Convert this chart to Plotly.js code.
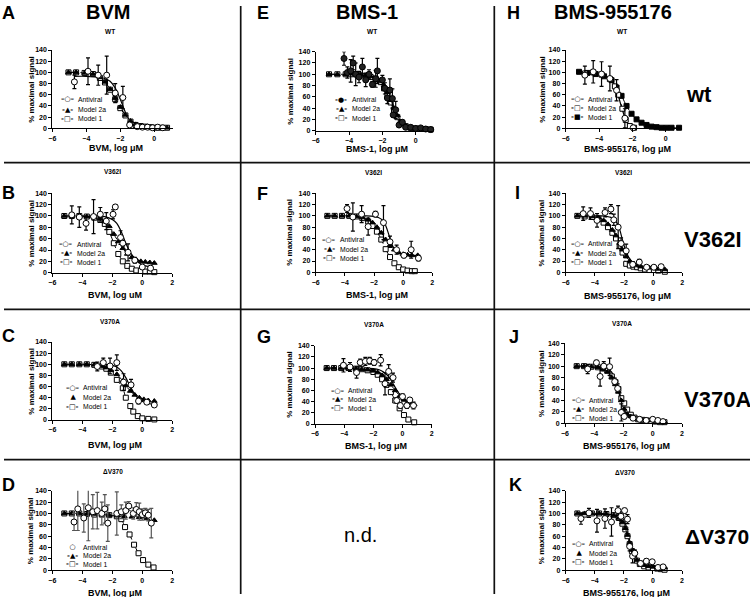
<!DOCTYPE html>
<html><head><meta charset="utf-8">
<script src="https://cdn.plot.ly/plotly-3.0.1.min.js"></script>
<style>html,body{margin:0;padding:0;background:#fff}#chart{width:750px;height:597px}</style>
</head><body><div id="chart"></div>
<script>
// ---------- DATA ----------
// Panel A: BVM, WT
const A_avX = [-4.7, -3.9, -3.3, -2.8, -2.3, -1.85, -1.45, -1.0, -0.7, -0.4, -0.1, 0.2, 0.5];
const A_avY = [83, 102, 95, 95, 63, 55, 6, 3, 2, 2, 1, 2, 1];
const A_avE = [12, 24, 18, 34, 17, 20, 2, 1, 1, 1, 1, 1, 1];
const A_fitX = [-4.7, -4.0, -3.5, -3.0, -2.6, -2.3, -2.0, -1.8, -1.6, -1.4, -1.2, -0.9, -0.5, 0.0, 0.7];
const A_fitY = [93, 93, 92, 90, 84, 72, 52, 36, 22, 11, 5, 2, 1, 0.5, 0.5];
const A_m2X = [-5.05, -4.6, -4.1, -3.6, -3.2, -2.9, -2.6, -2.3, -2.0, -1.7, -1.4, -1.1, -0.8, -0.5, -0.2, 0.1, 0.4, 0.75];
const A_m2Y = [100, 100, 99, 97, 91, 83, 70, 54, 38, 24, 13, 7, 4, 3, 2, 2, 1, 1];
const A_m1X = [-5.05, -4.6, -4.1, -3.6, -3.2, -2.9, -2.6, -2.3, -2.0, -1.7, -1.4, -1.1, -0.8, -0.5, -0.2, 0.1, 0.4, 0.75];
const A_m1Y = [100, 100, 99, 97, 90, 82, 69, 52, 36, 23, 12, 6, 4, 3, 2, 1, 1, 1];

// Panel B: BVM, V362I
const B_avX = [-4.7, -4.2, -3.75, -3.25, -2.8, -2.4, -1.95, -1.8, -1.45, -1.3, -0.95, -0.5, 0.0, 0.55];
const B_avY = [102, 98, 87, 99, 103, 91, 103, 116, 62, 52, 36, 22, 10, 8];
const B_avE = [16, 18, 12, 30, 12, 15, 8, 4, 12, 5, 15, 5, 3, 4];
const B_fitX = [-4.8, -4.0, -3.0, -2.5, -2.0, -1.7, -1.4, -1.1, -0.8, -0.5, -0.2, 0.2, 0.6];
const B_fitY = [100, 100, 100, 99, 94, 87, 72, 52, 36, 25, 17, 12, 10];
const B_m2X = [-5.2, -4.7, -4.2, -3.7, -3.2, -2.8, -2.5, -2.2, -1.9, -1.6, -1.3, -1.0, -0.7, -0.4, -0.1, 0.2, 0.5, 0.8];
const B_m2Y = [100, 100, 100, 99, 98, 95, 90, 82, 68, 55, 43, 33, 27, 23, 20, 19, 18, 17];
const B_m1X = [-5.2, -4.7, -4.2, -3.7, -3.2, -2.8, -2.5, -2.2, -1.9, -1.6, -1.3, -1.0, -0.7, -0.4, -0.1, 0.2, 0.5, 0.8];
const B_m1Y = [100, 100, 100, 99, 97, 93, 86, 72, 52, 33, 20, 12, 7, 4, 3, 2, 2, 1];

// Panel C: BVM, V370A
const C_avX = [-3.0, -2.6, -2.15, -1.7, -1.25, -0.75, -0.25, 0.3, 0.8];
const C_avY = [96, 103, 97, 103, 68, 63, 34, 32, 27];
const C_avE = [8, 8, 14, 14, 15, 10, 5, 4, 3];
const C_fitX = [-3.0, -2.5, -2.0, -1.7, -1.4, -1.1, -0.8, -0.5, -0.2, 0.2, 0.8];
const C_fitY = [100, 100, 98, 95, 88, 76, 60, 46, 37, 31, 28];
const C_m2X = [-5.2, -4.7, -4.2, -3.7, -3.2, -2.7, -2.4, -2.1, -1.7, -1.3, -1.1, -0.8, -0.5, -0.2, 0.1, 0.4, 0.8];
const C_m2Y = [100, 100, 100, 100, 99, 97, 94, 89, 82, 70, 62, 52, 45, 40, 37, 35, 34];
const C_m1X = [-5.2, -4.7, -4.2, -3.7, -3.2, -2.7, -2.4, -2.1, -1.7, -1.3, -1.1, -0.8, -0.6, -0.3, 0.0, 0.4, 0.8];
const C_m1Y = [100, 100, 100, 100, 99, 96, 92, 85, 72, 57, 40, 25, 15, 7, 3, 2, 1];

// Panel D: BVM, deltaV370
const D_avX = [-4.55, -4.3, -3.9, -3.6, -3.3, -3.0, -2.7, -2.5, -2.3, -1.7, -1.4, -1.1, -0.9, -0.6, -0.4, -0.2, 0.0, 0.2, 0.4, 0.6];
const D_avY = [85, 108, 92, 110, 103, 105, 100, 108, 83, 100, 103, 105, 113, 100, 107, 103, 98, 101, 97, 83];
const D_avE = [15, 38, 25, 58, 30, 32, 20, 25, 32, 38, 12, 15, 8, 10, 12, 15, 10, 8, 10, 26];
const D_m2X = [-5.2, -4.7, -4.2, -3.7, -3.2, -2.7, -2.2, -1.7, -1.2, -0.7, -0.2, 0.3, 0.8];
const D_m2Y = [100, 100, 100, 99, 99, 98, 97, 96, 95, 94, 93, 91, 88];
const D_m1X = [-5.2, -4.7, -4.2, -3.7, -3.2, -2.7, -2.2, -1.7, -1.4, -1.15, -0.85, -0.55, -0.25, 0.05, 0.4, 0.75];
const D_m1Y = [100, 100, 100, 99, 98, 98, 97, 95, 90, 76, 63, 45, 30, 18, 10, 5];

// Panel E: BMS-1, WT
const E_avX = [-4.3, -4.1, -3.9, -3.75, -3.6, -3.4, -3.2, -3.0, -2.8, -2.6, -2.4, -2.3, -2.0, -1.85, -1.7, -1.55, -1.4, -1.35, -1.2, -1.0, -0.8, -0.6, -0.3, 0.0, 0.3, 0.6, 0.9];
const E_avY = [128, 103, 106, 120, 100, 95, 113, 90, 100, 82, 92, 106, 90, 75, 58, 72, 57, 28, 37, 10, 15, 6, 6, 4, 5, 3, 2];
const E_avE = [12, 10, 20, 12, 20, 10, 15, 12, 8, 5, 15, 22, 8, 10, 10, 20, 17, 4, 15, 4, 4, 3, 3, 2, 2, 2, 1];
const E_fitX = [-4.3, -3.5, -3.0, -2.5, -2.2, -1.9, -1.7, -1.5, -1.3, -1.1, -0.9, -0.6, -0.2, 0.4, 1.0];
const E_fitY = [101, 100, 99, 97, 93, 84, 72, 57, 40, 25, 15, 8, 5, 3, 3];
const E_m2X = [-5.2, -4.7, -4.2, -3.9, -3.6, -3.3, -3.0, -2.7, -2.4, -2.1, -1.9, -1.7, -1.5, -1.3, -1.1, -0.9, -0.6, -0.3, 0.0, 0.3, 0.6, 0.9];
const E_m2Y = [100, 100, 100, 101, 100, 99, 98, 96, 93, 88, 80, 68, 56, 40, 27, 16, 9, 6, 5, 4, 3, 3];
const E_m1X = [-5.2, -4.7, -4.2, -3.9, -3.6, -3.3, -3.0, -2.7, -2.4, -2.1, -1.9, -1.7, -1.5, -1.3, -1.1, -0.9, -0.6, -0.3, 0.0, 0.3, 0.6, 0.9];
const E_m1Y = [100, 100, 100, 100, 100, 98, 97, 95, 92, 86, 75, 62, 50, 37, 24, 14, 8, 5, 4, 3, 3, 2];

// Panel F: BMS-1, V362I
const F_avX = [-3.85, -3.45, -2.85, -2.4, -1.9, -1.35, -0.9, -0.45, 0.05, 0.55, 1.05];
const F_avY = [113, 98, 103, 81, 103, 88, 54, 40, 30, 40, 25];
const F_avE = [7, 25, 15, 15, 5, 30, 10, 8, 4, 15, 5];
const F_fitX = [-3.8, -3.0, -2.5, -2.0, -1.7, -1.4, -1.2, -1.0, -0.8, -0.6, -0.3, 0.0, 0.5, 1.0];
const F_fitY = [100, 100, 100, 99, 97, 92, 83, 68, 52, 41, 34, 32, 30, 30];
const F_m2X = [-5.2, -4.7, -4.2, -3.7, -3.2, -2.8, -2.4, -2.1, -1.8, -1.5, -1.2, -0.9, -0.6, -0.3, 0.0, 0.3, 0.6, 1.0];
const F_m2Y = [100, 100, 100, 100, 99, 97, 93, 88, 80, 70, 58, 48, 40, 35, 32, 31, 30, 30];
const F_m1X = [-5.2, -4.7, -4.2, -3.7, -3.2, -2.8, -2.4, -2.1, -1.8, -1.5, -1.2, -0.9, -0.6, -0.3, 0.0, 0.3, 0.6, 0.8];
const F_m1Y = [100, 100, 100, 100, 99, 96, 90, 82, 72, 58, 41, 27, 16, 9, 5, 3, 2, 2];

// Panel G: BMS-1, V370A
const G_avX = [-4.05, -3.6, -3.15, -2.9, -2.55, -2.25, -1.95, -1.5, -1.2, -0.95, -0.65, -0.4, -0.15, 0.0, 0.3, 0.5, 0.75];
const G_avY = [105, 102, 92, 110, 112, 113, 110, 114, 72, 94, 83, 42, 33, 49, 33, 43, 33];
const G_avE = [12, 8, 10, 6, 7, 6, 5, 10, 20, 12, 8, 5, 5, 5, 5, 4, 6];
const G_fitX = [-4.0, -3.0, -2.0, -1.6, -1.3, -1.0, -0.8, -0.6, -0.4, -0.2, 0.0, 0.3, 0.8];
const G_fitY = [100, 100, 99, 97, 93, 86, 79, 70, 61, 53, 47, 42, 37];
const G_m2X = [-5.2, -4.7, -4.2, -3.7, -3.2, -2.8, -2.4, -2.0, -1.7, -1.4, -1.1, -0.8, -0.5, -0.2, 0.1, 0.4, 0.8];
const G_m2Y = [100, 100, 100, 100, 99, 98, 97, 95, 92, 87, 80, 70, 60, 50, 43, 38, 35];
const G_m1X = [-5.2, -4.7, -4.2, -3.7, -3.2, -2.8, -2.4, -2.0, -1.7, -1.4, -1.1, -0.8, -0.5, -0.2, 0.1, 0.4, 0.8];
const G_m1Y = [100, 100, 100, 100, 99, 98, 96, 93, 88, 80, 70, 57, 42, 28, 16, 8, 3];

// Panel H: BMS-955176, WT
const H_avX = [-4.85, -4.35, -3.85, -3.35, -2.95, -2.45, -1.95];
const H_avY = [95, 101, 97, 89, 68, 18, 1];
const H_avE = [16, 20, 22, 22, 19, 17, 1];
const H_fitX = [-4.85, -4.3, -3.8, -3.5, -3.3, -3.1, -2.9, -2.75, -2.6, -2.45, -2.3, -2.1, -1.9];
const H_fitY = [97, 96, 94, 91, 86, 77, 63, 48, 33, 19, 9, 3, 1];
const H_m2X = [-4.85, -4.35, -3.85, -3.35, -3.05, -2.85, -2.6, -2.4, -2.15, -1.9];
const H_m2Y = [98, 100, 96, 88, 75, 60, 35, 15, 4, 1];
const H_m1X = [-5.2, -4.7, -4.2, -3.7, -3.25, -2.95, -2.65, -2.35, -2.05, -1.75, -1.45, -1.15, -0.85, -0.55, -0.25, 0.05, 0.35, 0.8];
const H_m1Y = [101, 99, 97, 93, 86, 73, 58, 40, 26, 16, 10, 6, 3, 2, 1, 1, 1, 1];

// Panel I: BMS-955176, V362I
const I_avX = [-4.8, -4.3, -3.85, -3.3, -2.9, -2.7, -2.4, -2.2, -1.85, -1.4, -0.95, -0.45, 0.05, 0.55];
const I_avY = [104, 104, 92, 106, 112, 93, 80, 51, 38, 14, 18, 9, 9, 10];
const I_avE = [12, 10, 12, 8, 8, 10, 38, 10, 12, 5, 5, 3, 3, 3];
const I_fitX = [-4.8, -4.0, -3.5, -3.0, -2.7, -2.5, -2.3, -2.1, -1.9, -1.7, -1.4, -1.0, -0.5, 0.0, 0.6];
const I_fitY = [100, 100, 100, 98, 95, 88, 76, 57, 40, 28, 15, 10, 8, 8, 8];
const I_m2X = [-5.2, -4.7, -4.2, -3.75, -3.4, -3.1, -2.8, -2.55, -2.3, -2.1, -1.85, -1.6, -1.35, -1.1, -0.85, -0.55, -0.25, 0.05, 0.35, 0.8];
const I_m2Y = [100, 100, 99, 97, 92, 85, 75, 65, 52, 40, 28, 20, 15, 12, 10, 9, 8, 7, 6, 5];
const I_m1X = [-5.2, -4.7, -4.2, -3.75, -3.4, -3.1, -2.8, -2.55, -2.3, -2.1, -1.85, -1.6, -1.35, -1.1, -0.85, -0.55, -0.25, 0.05, 0.35, 0.8];
const I_m1Y = [100, 99, 98, 95, 88, 80, 70, 60, 47, 35, 15, 12, 10, 9, 7, 5, 4, 4, 3, 1];

// Panel J: BMS-955176, V370A
const J_avX = [-4.45, -3.85, -3.6, -3.35, -2.95, -2.6, -2.4, -2.15, -1.95, -1.35, -0.9, -0.45, 0.0, 0.35, 0.7];
const J_avY = [95, 106, 82, 100, 99, 73, 61, 19, 12, 9, 7, 5, 7, 5, 3];
const J_avE = [8, 4, 17, 8, 15, 6, 8, 15, 4, 3, 2, 2, 2, 2, 1];
const J_fitX = [-4.5, -3.8, -3.2, -2.9, -2.7, -2.5, -2.35, -2.2, -2.05, -1.9, -1.7, -1.4, -1.0, -0.5, 0.0, 0.7];
const J_fitY = [99, 98, 96, 92, 85, 73, 60, 45, 30, 20, 12, 8, 6, 5, 4, 3];
const J_m2X = [-5.2, -4.7, -4.2, -3.75, -3.4, -3.1, -2.8, -2.55, -2.35, -2.15, -1.95, -1.75, -1.5, -1.25, -1.0, -0.7, -0.4, -0.1, 0.2, 0.5, 0.8];
const J_m2Y = [100, 100, 99, 98, 95, 90, 80, 68, 55, 40, 25, 16, 12, 9, 7, 6, 5, 5, 4, 3, 3];
const J_m1X = [-5.2, -4.7, -4.2, -3.75, -3.4, -3.1, -2.8, -2.55, -2.35, -2.15, -1.95, -1.75, -1.5, -1.25, -1.0, -0.7, -0.4, -0.1, 0.2, 0.5, 0.8];
const J_m1Y = [100, 100, 99, 98, 96, 92, 82, 72, 60, 44, 35, 24, 15, 10, 7, 6, 5, 4, 3, 2, 2];

// Panel K: BMS-955176, deltaV370
const K_avX = [-4.95, -4.4, -3.85, -3.3, -2.85, -2.4, -2.2, -1.95, -1.75, -1.6, -1.4, -1.25, -0.85, -0.45, -0.05, 0.35, 0.7];
const K_avY = [91, 101, 87, 91, 85, 105, 95, 105, 90, 42, 25, 30, 12, 16, 15, 5, 6];
const K_avE = [10, 8, 20, 17, 25, 8, 8, 4, 8, 8, 12, 6, 4, 4, 3, 2, 2];
const K_fitX = [-4.9, -4.0, -3.0, -2.5, -2.2, -2.0, -1.85, -1.7, -1.55, -1.4, -1.2, -1.0, -0.7, -0.3, 0.2, 0.7];
const K_fitY = [98, 98, 98, 97, 94, 88, 79, 64, 47, 33, 21, 14, 9, 6, 5, 4];
const K_m2X = [-5.2, -4.7, -4.2, -3.7, -3.2, -2.7, -2.35, -2.1, -1.9, -1.75, -1.6, -1.45, -1.3, -1.1, -0.9, -0.6, -0.3, 0.0, 0.3, 0.55, 0.8];
const K_m2Y = [100, 100, 100, 100, 99, 97, 92, 84, 74, 62, 48, 36, 26, 18, 13, 9, 7, 6, 5, 5, 5];
const K_m1X = [-5.2, -4.7, -4.2, -3.7, -3.2, -2.7, -2.35, -2.1, -1.9, -1.75, -1.6, -1.45, -1.3, -1.1, -0.9, -0.6, -0.3, 0.0, 0.3, 0.55, 0.8];
const K_m1Y = [100, 98, 100, 100, 99, 97, 92, 82, 72, 60, 46, 34, 30, 17, 11, 7, 5, 4, 3, 2, 1];

// Text labels
const drugNames = ['BVM', 'BMS-1', 'BMS-955176'];
const variantTitles = ['WT', 'V362I', 'V370A', '\u0394V370'];
const rightLabels = ['wt', 'V362I', 'V370A', '\u0394V370'];
const seriesNames = ['Antiviral', 'Model 2a', 'Model 1'];
const yTickVals = [0, 20, 40, 60, 80, 100, 120, 140];

// ---------- LAYOUT / STYLE ----------
const W = 750, H = 597;
const FONT = 'Liberation Sans, Arial, sans-serif';
const px = v => v / W, py = v => 1 - v / H;

const panels = [
  {id:'A', d:{avX:A_avX,avY:A_avY,avE:A_avE,fitX:A_fitX,fitY:A_fitY,m2X:A_m2X,m2Y:A_m2Y,m1X:A_m1X,m1Y:A_m1Y},
   xl:52.3, xr:173.0, xmax:1.1, yb:128.3, yt:50, title:variantTitles[0], tpos:[110,31.5], xt:'BVM, log \u03bcM', xtY:148, ytX:30.7,
   letter:[8.5,13], leg:[61.7,[99.3,109.7,118.7]]},
  {id:'B', d:{avX:B_avX,avY:B_avY,avE:B_avE,fitX:B_fitX,fitY:B_fitY,m2X:B_m2X,m2Y:B_m2Y,m1X:B_m1X,m1Y:B_m1Y},
   xl:52.3, xr:172.3, xmax:2, yb:272.7, yt:193.3, title:variantTitles[1], tpos:[112,171.5], xt:'BVM, log uM', xtY:295, ytX:30.7,
   letter:[8.5,193], leg:[60,[244.3,253.3,262.3]]},
  {id:'C', d:{avX:C_avX,avY:C_avY,avE:C_avE,fitX:C_fitX,fitY:C_fitY,m2X:C_m2X,m2Y:C_m2Y,m1X:C_m1X,m1Y:C_m1Y},
   xl:52.3, xr:172.3, xmax:2, yb:420, yt:342, title:variantTitles[2], tpos:[110,321], xt:'BVM, log \u03bcM', xtY:445, ytX:30.7,
   letter:[8.5,336], leg:[66.7,[387.7,397.3,406.7]], m2leg:' \u25B2 '},
  {id:'D', d:{avX:D_avX,avY:D_avY,avE:D_avE,fitX:null,fitY:null,m2X:D_m2X,m2Y:D_m2Y,m1X:D_m1X,m1Y:D_m1Y},
   xl:52.3, xr:172.3, xmax:2, yb:570.3, yt:490.7, title:variantTitles[3], tpos:[113,471], xt:'BVM, log \u03bcM', xtY:592.5, ytX:30.7,
   letter:[8.5,485], leg:[66.7,[547,555.7,564.3]], avleg:' \u25CB ', errColor:'#555'},
  {id:'E', d:{avX:E_avX,avY:E_avY,avE:E_avE,fitX:E_fitX,fitY:E_fitY,m2X:E_m2X,m2Y:E_m2Y,m1X:E_m1X,m1Y:E_m1Y},
   xl:315.7, xr:433.2, xmax:1.05, yb:130.7, yt:51.7, title:variantTitles[0], tpos:[372,31], xt:'BMS-1, log \u03bcM', xtY:149, ytX:290.5,
   letter:[262.5,13], leg:[335,[100,109,118.3]], avSym:'circle', avFill:'#222', avleg:'-\u25CF-'},
  {id:'F', d:{avX:F_avX,avY:F_avY,avE:F_avE,fitX:F_fitX,fitY:F_fitY,m2X:F_m2X,m2Y:F_m2Y,m1X:F_m1X,m1Y:F_m1Y},
   xl:315.7, xr:432.3, xmax:2, yb:272.3, yt:193.3, title:variantTitles[1], tpos:[373,172], xt:'BMS-1, log \u03bcM', xtY:294.5, ytX:290,
   letter:[262,194], leg:[323.3,[240,249.3,258.3]]},
  {id:'G', d:{avX:G_avX,avY:G_avY,avE:G_avE,fitX:G_fitX,fitY:G_fitY,m2X:G_m2X,m2Y:G_m2Y,m1X:G_m1X,m1Y:G_m1Y},
   xl:315, xr:431.7, xmax:2, yb:424, yt:345.7, title:variantTitles[2], tpos:[374,324], xt:'BMS-1, log \u03bcM', xtY:445.7, ytX:290,
   letter:[264,336.5], leg:[331.7,[390.7,399.3,408.3]]},
  {id:'H', d:{avX:H_avX,avY:H_avY,avE:H_avE,fitX:H_fitX,fitY:H_fitY,m2X:H_m2X,m2Y:H_m2Y,m1X:H_m1X,m1Y:H_m1Y},
   xl:565.7, xr:682.4, xmax:1.0, yb:128.3, yt:50, title:variantTitles[0], tpos:[622,31], xt:'BMS-955176, log \u03bcM', xtY:149, ytX:541.7,
   letter:[513.5,13], leg:[571.7,[99.3,108.3,117.3]], m2Sym:'square', m2Fill:'#fff', m1Sym:'square', m1Fill:'#000', m2leg:'-\u25A1-', m1leg:'-\u25A0-'},
  {id:'I', d:{avX:I_avX,avY:I_avY,avE:I_avE,fitX:I_fitX,fitY:I_fitY,m2X:I_m2X,m2Y:I_m2Y,m1X:I_m1X,m1Y:I_m1Y},
   xl:565.7, xr:682.3, xmax:2, yb:272.3, yt:193.3, title:variantTitles[1], tpos:[623,172], xt:'BMS-955176, log \u03bcM', xtY:295.5, ytX:541.7,
   letter:[517,193], leg:[571.7,[244,253.3,262.3]]},
  {id:'J', d:{avX:J_avX,avY:J_avY,avE:J_avE,fitX:J_fitX,fitY:J_fitY,m2X:J_m2X,m2Y:J_m2Y,m1X:J_m1X,m1Y:J_m1Y},
   xl:565, xr:682, xmax:2, yb:423.3, yt:343.3, title:variantTitles[2], tpos:[622,323], xt:'BMS-955176, log \u03bcM', xtY:445.7, ytX:541.7,
   letter:[514,337], leg:[572.7,[400,409.3,418.3]]},
  {id:'K', d:{avX:K_avX,avY:K_avY,avE:K_avE,fitX:K_fitX,fitY:K_fitY,m2X:K_m2X,m2Y:K_m2Y,m1X:K_m1X,m1Y:K_m1Y},
   xl:565.7, xr:682, xmax:2, yb:570.3, yt:490.7, title:variantTitles[3], tpos:[625,472], xt:'BMS-955176, log \u03bcM', xtY:592.5, ytX:541.7,
   letter:[515,485.5], leg:[572.7,[543.7,553,562.3]], m2leg:' \u25B2 '}
];

const traces = [];
const layout = {
  width: W, height: H, margin: {l:0, r:0, t:0, b:0},
  paper_bgcolor: '#fff', plot_bgcolor: 'rgba(0,0,0,0)',
  showlegend: false, font: {family: FONT, color: '#000'},
  annotations: [], shapes: []
};
const tickFont = {family: FONT, size: 7, color: '#000', weight: 'bold'};

function ann(text, x, y, size, extra) {
  return Object.assign({
    text: text, x: px(x), y: py(y), xref: 'paper', yref: 'paper', showarrow: false,
    xanchor: 'center', yanchor: 'middle',
    font: {family: FONT, size: size, color: '#000', weight: 'bold'}
  }, extra || {});
}

panels.forEach((p, i) => {
  const n = i === 0 ? '' : String(i + 1);
  const xa = 'x' + n, ya = 'y' + n;
  layout['xaxis' + n] = {
    domain: [px(p.xl), px(p.xr)], range: [-6, p.xmax], anchor: ya,
    showline: true, linecolor: '#000', linewidth: 1, ticks: 'outside', ticklen: 3, tickwidth: 1, tickcolor: '#000',
    tick0: -6, dtick: 2, showgrid: false, zeroline: false, tickfont: tickFont, fixedrange: true
  };
  layout['yaxis' + n] = {
    domain: [py(p.yb), py(p.yt)], range: [0, 140], anchor: xa,
    showline: true, linecolor: '#000', linewidth: 1, ticks: 'outside', ticklen: 3, tickwidth: 1, tickcolor: '#000',
    tickvals: yTickVals, showgrid: false, zeroline: false, tickfont: tickFont, fixedrange: true
  };
  const d = p.d;
  if (d.fitX) {
    traces.push({type:'scatter', x:d.fitX, y:d.fitY, xaxis:xa, yaxis:ya, mode:'lines', name:seriesNames[0]+' fit',
      line:{color:'#000', width:1.2, shape:'spline', smoothing:1}, cliponaxis:false, hoverinfo:'skip'});
  }
  traces.push({type:'scatter', x:d.m1X, y:d.m1Y, xaxis:xa, yaxis:ya, mode:'lines+markers', name:seriesNames[2],
    line:{color:'#000', width:1, dash:'dashdot', shape:'spline', smoothing:0.8},
    marker:{symbol:p.m1Sym || 'square', size:5, color:p.m1Fill || '#fff', line:{color:'#000', width:1}}, cliponaxis:false});
  traces.push({type:'scatter', x:d.m2X, y:d.m2Y, xaxis:xa, yaxis:ya, mode:'lines+markers', name:seriesNames[1],
    line:{color:'#000', width:1, dash:'dash', shape:'spline', smoothing:0.8},
    marker:{symbol:p.m2Sym || 'triangle-up', size:5, color:p.m2Fill || '#000', line:{color:'#000', width:1}}, cliponaxis:false});
  traces.push({type:'scatter', x:d.avX, y:d.avY, xaxis:xa, yaxis:ya, mode:'markers', name:seriesNames[0],
    error_y:{type:'data', array:d.avE, visible:true, color:p.errColor || '#000', thickness:1.2, width:2},
    marker:{symbol:p.avSym || 'circle', size:6, color:p.avFill || '#fff', line:{color:'#000', width:1}}, cliponaxis:false});

  // subplot title, panel letter, axis titles
  layout.annotations.push(ann(p.title, p.tpos[0], p.tpos[1], 6.5));
  layout.annotations.push(ann(p.id, p.letter[0], p.letter[1], 18));
  layout.annotations.push(ann(p.xt, (p.xl + p.xr) / 2 + 3, p.xtY, 9));
  layout.annotations.push(ann('% maximal signal', p.ytX, (p.yb + p.yt) / 2, 8, {textangle: -90}));
  // legend (text)
  const syms = [p.avleg || '\u2013\u25CB\u2013', p.m2leg || '-\u25B2-', p.m1leg || '-\u25A1-'];
  for (let k = 0; k < 3; k++) {
    layout.annotations.push(ann(syms[k], p.leg[0] + 6, p.leg[1][k], 7,
      {font:{family:'DejaVu Sans, sans-serif', size:7, color:'#000', weight:'bold'}}));
    layout.annotations.push(ann(seriesNames[k], p.leg[0] + 14.5, p.leg[1][k], 6.8,
      {xanchor:'left', font:{family:FONT, size:6.8, color:'#000'}}));
  }
});

// column headers
layout.annotations.push(ann(drugNames[0], 107.5, 12, 20));
layout.annotations.push(ann(drugNames[1], 367, 12, 20));
layout.annotations.push(ann(drugNames[2], 613, 12, 20));
// right labels
layout.annotations.push(ann(rightLabels[0], 699, 95, 22));
layout.annotations.push(ann(rightLabels[1], 713, 240, 22));
layout.annotations.push(ann(rightLabels[2], 717, 399, 22));
layout.annotations.push(ann(rightLabels[3], 717, 536, 21));
// n.d.
layout.annotations.push(ann('n.d.', 360, 535, 20, {font:{family:FONT, size:20, color:'#000'}}));

// separator lines
const sep = {xref:'paper', yref:'paper', type:'line', line:{color:'#111', width:1.7}};
[162.7, 309.3, 459.7].forEach(y => layout.shapes.push(Object.assign({x0:px(4), x1:1, y0:py(y), y1:py(y)}, sep)));
[240.7, 494.3].forEach(x => layout.shapes.push(Object.assign({x0:px(x), x1:px(x), y0:py(6), y1:py(594)}, sep)));

Plotly.newPlot('chart', traces, layout, {staticPlot: true, displayModeBar: false});
</script>
</body></html>
